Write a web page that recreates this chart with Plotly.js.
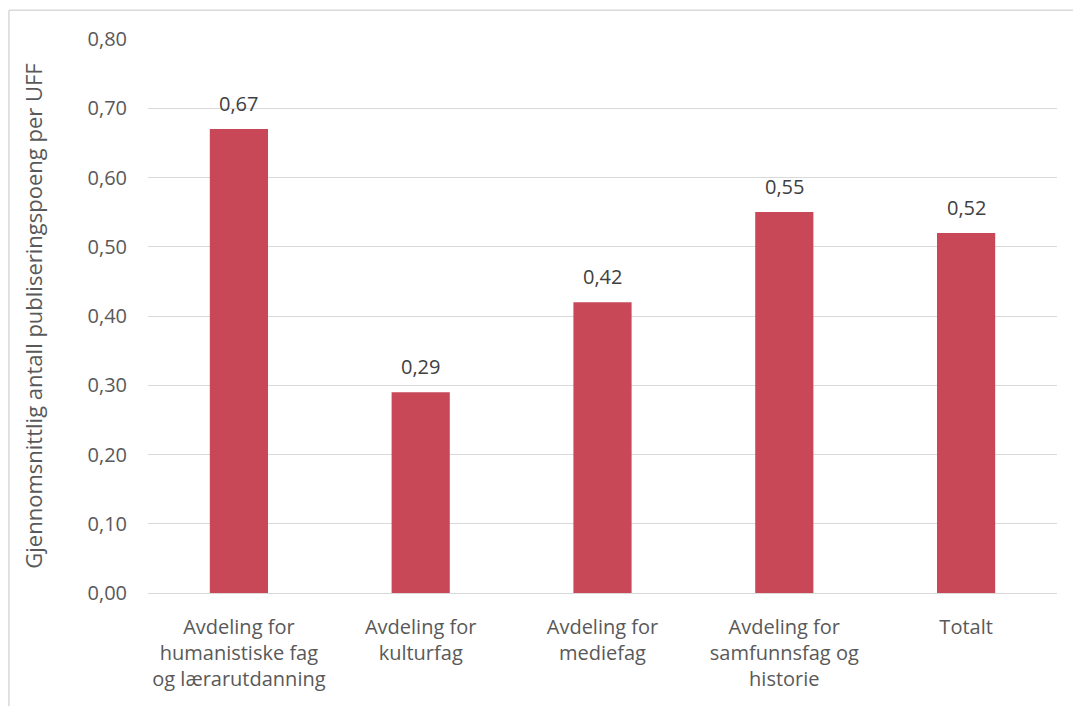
<!DOCTYPE html>
<html>
<head>
<meta charset="utf-8">
<script src="https://cdn.plot.ly/plotly-3.0.1.min.js"></script>
<style>html,body{margin:0;padding:0;background:#fff;}#chart{width:1073px;height:706px;}</style>
</head>
<body>
<div id="chart"></div>
<script>
const categories = [
  "Avdeling for<br>humanistiske fag<br>og lærarutdanning",
  "Avdeling for<br>kulturfag",
  "Avdeling for<br>mediefag",
  "Avdeling for<br>samfunnsfag og<br>historie",
  "Totalt"
];
const values = [0.67, 0.29, 0.42, 0.55, 0.52];
const valueLabels = ["0,67", "0,29", "0,42", "0,55", "0,52"];
const yTicks = [0, 0.1, 0.2, 0.3, 0.4, 0.5, 0.6, 0.7, 0.8];
const yTickLabels = ["0,00", "0,10", "0,20", "0,30", "0,40", "0,50", "0,60", "0,70", "0,80"];
const yTitle = "Gjennomsnittlig antall publiseringspoeng per UFF";

const fontFam = "'Open Sans', 'Noto Sans', sans-serif";
const grey = "#595959";

const trace = {
  type: "bar",
  x: categories,
  y: values,
  marker: {color: "#C84858"},
  hoverinfo: "skip"
};

const annotations = categories.map((c, i) => ({
  x: c, y: values[i], xref: "x", yref: "y",
  text: valueLabels[i], showarrow: false,
  yanchor: "bottom", yshift: 10,
  font: {family: fontFam, size: 20, color: "#404040"}
}));

const layout = {
  width: 1073, height: 706,
  margin: {l: 148, r: 16, t: 39, b: 113},
  paper_bgcolor: "#fff", plot_bgcolor: "#fff",
  bargap: 0.68,
  showlegend: false,
  font: {family: fontFam, size: 20, color: grey},
  xaxis: {
    type: "category",
    showgrid: false,
    showline: true, linecolor: "#d9d9d9", linewidth: 1,
    ticks: "", ticklabelstandoff: 16,
    tickfont: {family: fontFam, size: 20, color: grey}
  },
  yaxis: {
    range: [0, 0.8],
    tickvals: yTicks, ticktext: yTickLabels,
    showgrid: true, gridcolor: "#d9d9d9", gridwidth: 1,
    zeroline: false, showline: false,
    ticks: "", ticklabelstandoff: 20,
    tickfont: {family: fontFam, size: 20, color: grey},
    title: {text: yTitle, standoff: 38, font: {family: fontFam, size: 22, color: grey}}
  },
  annotations: annotations,
  shapes: [
    {type: "line", xref: "paper", yref: "paper", x0: -0.153, x1: 1.03, y0: 1.052, y1: 1.052, line: {color: "#d9d9d9", width: 1.5}},
    {type: "line", xref: "paper", yref: "paper", x0: -0.153, x1: -0.153, y0: 1.052, y1: -0.25, line: {color: "#d9d9d9", width: 1.5}}
  ]
};

Plotly.newPlot("chart", [trace], layout, {displayModeBar: false, staticPlot: true});
</script>
</body>
</html>
